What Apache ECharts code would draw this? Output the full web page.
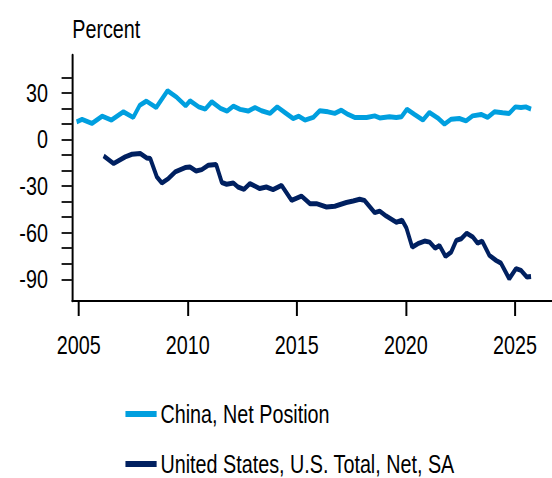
<!DOCTYPE html>
<html>
<head>
<meta charset="utf-8">
<script src="https://cdn.jsdelivr.net/npm/echarts@6/dist/echarts.min.js"></script>
<style>
  html, body { margin: 0; padding: 0; background: #fff; overflow: hidden; }
  /* the reference uses a condensed face; draw wider and squeeze horizontally */
  #chart { width: 726px; height: 478px; transform: scaleX(0.7603); transform-origin: 0 0; }
</style>
</head>
<body>
<div id="chart"></div>
<script>
// [year, percent]
const chinaPoints = [
  [2004.9, 11.4], [2005.15, 12.9], [2005.6, 10.3], [2006.07, 15], [2006.5, 12.5],
  [2007.05, 17.8], [2007.5, 14.2], [2007.8, 22.1], [2008.1, 24.7], [2008.55, 20.6],
  [2009.07, 31.4], [2009.5, 27.1], [2009.9, 21.7], [2010.1, 24.9], [2010.5, 21],
  [2010.8, 19.5], [2011.1, 24.3], [2011.5, 20], [2011.8, 18.3], [2012.09, 21.5],
  [2012.4, 19.4], [2012.77, 18.3], [2013.08, 20.6], [2013.38, 18.5], [2013.77, 16.8],
  [2014.1, 21], [2014.45, 17.4], [2014.83, 13.5], [2015.09, 15], [2015.37, 12.5],
  [2015.75, 14.2], [2016.05, 18.5], [2016.43, 17.8], [2016.74, 16.8], [2017.04, 18.9],
  [2017.35, 16.1], [2017.65, 14.2], [2018.2, 14.2], [2018.57, 15.2], [2018.8, 13.9],
  [2019.25, 14.6], [2019.56, 14.2], [2019.8, 14.6], [2020.05, 19.5], [2020.4, 16.1],
  [2020.78, 12.5], [2021.08, 17.4], [2021.46, 13.9], [2021.77, 9.9], [2022.08, 13.1],
  [2022.45, 13.5], [2022.76, 12], [2023.06, 15.2], [2023.45, 16.1], [2023.75, 14.2],
  [2024.06, 17.8], [2024.44, 17.2], [2024.74, 16.8], [2025.02, 21], [2025.28, 20.6],
  [2025.5, 21], [2025.74, 19.5]
]
const usPoints = [
  [2006.14, -10.6], [2006.6, -15.5], [2007.13, -11.2], [2007.44, -9.5], [2007.82, -9],
  [2008.12, -11.9], [2008.28, -12.3], [2008.58, -24.1], [2008.81, -28], [2009.11, -25.2],
  [2009.42, -20.9], [2009.88, -18.1], [2010.1, -17.7], [2010.38, -20.3], [2010.64, -19.4],
  [2010.94, -16.6], [2011.3, -16.1], [2011.56, -27.7], [2011.78, -28.8], [2012.09, -28],
  [2012.3, -30.6], [2012.58, -32.1], [2012.85, -28.4], [2013.3, -31.6], [2013.6, -30.6],
  [2013.91, -32.3], [2014.3, -29.5], [2014.76, -39.2], [2015.21, -36.4], [2015.6, -41.3],
  [2015.9, -41.3], [2016.36, -43.5], [2016.74, -43], [2017.27, -40.6], [2017.58, -39.6],
  [2017.88, -38.5], [2018.1, -39.2], [2018.57, -47.1], [2018.8, -46.1], [2019.1, -49.3],
  [2019.56, -53.3], [2019.83, -52], [2020.02, -56.8], [2020.29, -69.3], [2020.55, -67.1],
  [2020.86, -65.4], [2021.09, -66.1], [2021.34, -70], [2021.54, -68.2], [2021.82, -75.3],
  [2022.08, -72.5], [2022.31, -65], [2022.54, -63.9], [2022.79, -60.3], [2023.07, -62.8],
  [2023.29, -66.7], [2023.5, -65.4], [2023.83, -74.6], [2024.14, -77.9], [2024.36, -79.6],
  [2024.74, -89.7], [2025.05, -83.2], [2025.28, -84.3], [2025.55, -88.6], [2025.74, -88.2]
]
const seriesNames = ['China, Net Position', 'United States, U.S. Total, Net, SA']
const xTickYears = [2005, 2010, 2015, 2020, 2025]
const yTicks = [40, 30, 20, 10, 0, -10, -20, -30, -40, -50, -60, -70, -80, -90]
const yLabels = [30, 0, -30, -60, -90]

const FONT = '"Liberation Sans", Arial, sans-serif'

const chart = echarts.init(document.getElementById('chart'), null, { renderer: 'svg' })
chart.setOption({
  animation: false,
  color: ['#009FDF', '#002060'],
  grid: { left: 95, right: 0, top: 55, bottom: 177 },
  graphic: [
    {
      type: 'text',
      left: 95,
      top: 16,
      style: { text: 'Percent', font: '26px ' + FONT, fill: '#000' }
    }
  ],
  legend: {
    orient: 'vertical',
    left: 160,
    top: 396,
    height: 100,
    icon: 'rect',
    itemWidth: 41,
    itemHeight: 6,
    itemGap: 24,
    textStyle: { fontFamily: FONT, fontSize: 26, color: '#000', lineHeight: 26 },
    data: seriesNames
  },
  xAxis: {
    type: 'value',
    min: 2004.7,
    max: 2026.7,
    splitLine: { show: false },
    axisLine: { onZero: false, lineStyle: { color: '#000', width: 2 } },
    axisTick: { customValues: xTickYears, length: 15, lineStyle: { color: '#000', width: 2.6 } },
    axisLabel: {
      customValues: xTickYears,
      formatter: (v) => String(v),
      margin: 31,
      fontFamily: FONT,
      fontSize: 26,
      color: '#000'
    }
  },
  yAxis: {
    type: 'value',
    min: -104,
    max: 54.4,
    splitLine: { show: false },
    axisLine: { show: true, lineStyle: { color: '#000', width: 2.6 } },
    axisTick: { show: true, customValues: yTicks, length: 14, lineStyle: { color: '#222', width: 2 } },
    axisLabel: {
      customValues: yLabels,
      margin: 32,
      fontFamily: FONT,
      fontSize: 26,
      color: '#000'
    }
  },
  series: [
    {
      name: seriesNames[0],
      type: 'line',
      showSymbol: false,
      lineStyle: { width: 5 },
      data: chinaPoints
    },
    {
      name: seriesNames[1],
      type: 'line',
      showSymbol: false,
      lineStyle: { width: 5 },
      data: usPoints
    }
  ]
})
</script>
</body>
</html>
